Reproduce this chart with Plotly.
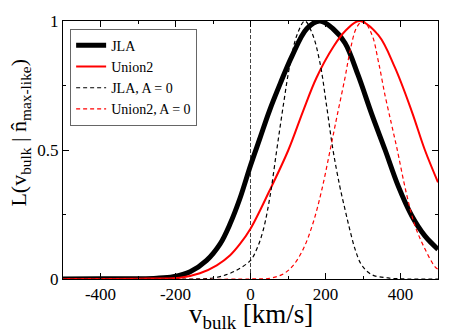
import plotly.graph_objects as go

# values
v_jla = [-500, -400, -300, -250, -206, -161, -117, -81, -55, -28, 0, 25, 50, 80, 110, 150, 185,
         220, 252, 287, 323, 359, 394, 430, 465, 500]
l_jla = [0.0, 0.0005, 0.001, 0.003, 0.009, 0.028, 0.072, 0.136, 0.212, 0.313, 0.44, 0.545, 0.65,
         0.76, 0.862, 0.97, 1.0, 0.97, 0.915, 0.79, 0.64, 0.50, 0.36, 0.245, 0.167, 0.115]

v_union2 = [-500, -400, -300, -250, -188, -135, -90, -55, -28, 0, 50, 101, 140, 176, 221, 252,
            290, 341, 385, 430, 465, 500]
l_union2 = [0.0, 0.0003, 0.001, 0.002, 0.005, 0.022, 0.053, 0.091, 0.136, 0.195, 0.34, 0.5,
            0.65, 0.78, 0.9, 0.96, 1.0, 0.945, 0.82, 0.65, 0.5, 0.375]

v_jla_a0 = [-500, -150, -100, -60, -30, 0, 17, 34, 52, 70, 88, 105, 125, 145, 165, 185, 203,
            220, 238, 252, 265, 279, 296, 323, 367, 420, 500]
l_jla_a0 = [0, 0, 0.004, 0.019, 0.04, 0.072, 0.117, 0.19, 0.32, 0.5, 0.678, 0.83, 0.95, 1.0,
            0.95, 0.84, 0.67, 0.5, 0.36, 0.27, 0.19, 0.115, 0.055, 0.017, 0.004, 0, 0]

v_union2_a0 = [-500, 0, 52, 88, 114, 141, 167, 190, 212, 232, 252, 265, 283, 300, 323, 341, 359,
               376, 390, 416, 439, 465, 492, 500]
l_union2_a0 = [0, 0, 0.003, 0.02, 0.053, 0.117, 0.218, 0.345, 0.497, 0.64, 0.78, 0.88, 0.975,
               1.0, 0.95, 0.843, 0.71, 0.6, 0.51, 0.33, 0.205, 0.117, 0.047, 0.038]

zero_line_x = 0

x_tickvals = [-400, -200, 0, 200, 400]
x_ticktext = ['-400', '-200', '0', '200', '400']
x_minor = [-300, -100, 100, 300]
y_tickvals = [0, 0.5, 1]
y_ticktext = ['0', '0.5', '1']
y_minor = [0.25, 0.75]

SERIF = 'Liberation Serif, Times New Roman, serif'

fig = go.Figure()

fig.add_trace(go.Scatter(x=v_jla, y=l_jla, mode='lines', name='JLA',
                         line=dict(color='black', width=5, shape='spline', smoothing=1)))
fig.add_trace(go.Scatter(x=v_union2, y=l_union2, mode='lines', name='Union2',
                         line=dict(color='red', width=2, shape='spline', smoothing=1)))
fig.add_trace(go.Scatter(x=v_jla_a0, y=l_jla_a0, mode='lines', name='JLA, A = 0',
                         line=dict(color='black', width=1.2, dash='4px,3px',
                                   shape='spline', smoothing=1)))
fig.add_trace(go.Scatter(x=v_union2_a0, y=l_union2_a0, mode='lines', name='Union2, A = 0',
                         line=dict(color='red', width=1.2, dash='4px,3px',
                                   shape='spline', smoothing=1)))

fig.add_vline(x=zero_line_x, line=dict(color='#444444', width=1, dash='4px,2px'), layer='below')

axis_common = dict(
    ticks='inside', ticklen=6, tickwidth=1, tickcolor='black',
    showline=True, linecolor='black', linewidth=1, mirror='allticks',
    showgrid=False, zeroline=False,
    tickfont=dict(family=SERIF, size=17, color='black'),
)

fig.update_xaxes(range=[-500, 500], tickmode='array', tickvals=x_tickvals, ticktext=x_ticktext,
                 minor=dict(ticks='inside', ticklen=3, tickcolor='black', tickvals=x_minor,
                            showgrid=False),
                 **axis_common)
fig.update_yaxes(range=[0, 1], tickmode='array', tickvals=y_tickvals, ticktext=y_ticktext,
                 minor=dict(ticks='inside', ticklen=3, tickcolor='black', tickvals=y_minor,
                            showgrid=False),
                 **axis_common)

# axis titles as annotations so they can be placed like the original
fig.add_annotation(text='v<sub>bulk</sub> [km/s]', xref='paper', yref='paper',
                   x=0.5, y=-0.07, xanchor='center', yanchor='top', showarrow=False,
                   font=dict(family=SERIF, size=27, color='black'))
fig.add_annotation(text='L(v<sub>bulk</sub> | n\u0302<sub>max-like</sub>)',
                   xref='paper', yref='paper', x=-0.115, y=0.567, xanchor='center',
                   yanchor='middle', textangle=-90, showarrow=False,
                   font=dict(family=SERIF, size=22, color='black'))

fig.update_layout(
    width=452, height=333,
    margin=dict(l=63, r=14, t=16, b=54),
    plot_bgcolor='white', paper_bgcolor='white',
    font=dict(family=SERIF, color='black'),
    showlegend=True,
    legend=dict(x=0.019, y=0.97, xanchor='left', yanchor='top',
                bgcolor='white', bordercolor='#666666', borderwidth=1,
                font=dict(family=SERIF, size=14, color='black'),
                itemwidth=30, tracegroupgap=0),
)

# page body has a default margin; remove it so the figure sits at the window corner
fig.write_html("out.html", config={'displayModeBar': False},
               post_script="document.body.style.margin='0';")
